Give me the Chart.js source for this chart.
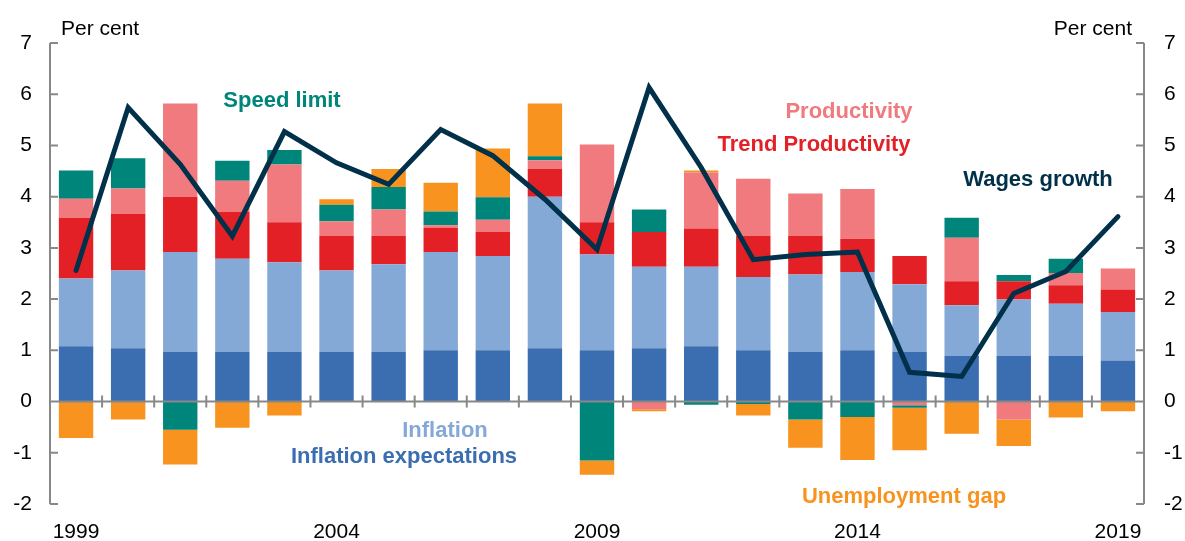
<!DOCTYPE html>
<html><head><meta charset="utf-8">
<script src="https://cdn.jsdelivr.net/npm/chart.js@4.4.1/dist/chart.umd.min.js"></script>
<style>html,body{margin:0;padding:0;background:#fff;} #wrap{width:1185px;height:541px;}</style>
</head><body><div id="wrap"><canvas id="c" width="1185" height="541"></canvas></div>
<script>
const years = [1999,2000,2001,2002,2003,2004,2005,2006,2007,2008,2009,2010,2011,2012,2013,2014,2015,2016,2017,2018,2019];
const inflationExpectations = [1.08,1.04,0.97,0.97,0.97,0.97,0.97,1.00,1.00,1.04,1.00,1.04,1.08,1.00,0.97,1.00,0.97,0.89,0.89,0.89,0.80];
const inflation = [1.32,1.52,1.95,1.82,1.75,1.59,1.71,1.92,1.84,2.96,1.87,1.59,1.55,1.43,1.51,1.53,1.32,0.99,1.10,1.02,0.95];
const trendProductivity = [1.19,1.10,1.08,0.91,0.78,0.67,0.55,0.47,0.47,0.54,0.63,0.68,0.75,0.80,0.75,0.65,0.55,0.47,0.36,0.36,0.44];
const productivity = [0.37,0.50,1.82,0.61,1.13,0.29,0.52,0.05,0.24,0.17,1.52,-0.15,1.09,1.12,0.83,0.97,-0.07,0.85,-0.35,0.24,0.41];
const speedLimit = [0.55,0.59,-0.55,0.39,0.28,0.32,0.44,0.27,0.44,0.08,-1.15,0.44,-0.06,-0.05,-0.35,-0.30,-0.05,0.39,0.12,0.28,0];
const unemploymentGap = [-0.71,-0.35,-0.68,-0.51,-0.27,0.11,0.35,0.56,0.95,1.03,-0.28,-0.04,0.04,-0.22,-0.55,-0.84,-0.83,-0.63,-0.52,-0.31,-0.19];
const wagesGrowth = [2.56,5.74,4.63,3.23,5.27,4.66,4.24,5.31,4.80,3.95,2.97,6.13,4.57,2.77,2.87,2.92,0.57,0.49,2.11,2.54,3.61];
const yTicks = [-2,-1,0,1,2,3,4,5,6,7];

const C = {
  infExp:'#3B6EB0', infl:'#84A9D6', trend:'#E42027', prod:'#F07A7D',
  speed:'#00857B', unemp:'#F7931E', wages:'#00304A', axis:'#888888'
};
const FONT = '"Liberation Sans", Arial, sans-serif';

const overlay = {
  id:'overlay',
  afterDatasetsDraw(chart){
    const ctx = chart.ctx, a = chart.chartArea;
    const x = chart.scales.x, y = chart.scales.y;
    ctx.save();
    ctx.strokeStyle = C.axis; ctx.lineWidth = 2;
    ctx.beginPath();
    ctx.moveTo(a.left, y.getPixelForValue(7)); ctx.lineTo(a.left, y.getPixelForValue(-2));
    ctx.moveTo(a.right, y.getPixelForValue(7)); ctx.lineTo(a.right, y.getPixelForValue(-2));
    yTicks.forEach(v => {
      const py = y.getPixelForValue(v);
      ctx.moveTo(a.left, py); ctx.lineTo(a.left + 8, py);
      ctx.moveTo(a.right, py); ctx.lineTo(a.right - 8, py);
    });
    const z = y.getPixelForValue(0);
    ctx.moveTo(a.left, z); ctx.lineTo(a.right, z);
    for (let i = 1; i < years.length; i++) {
      const px = (x.getPixelForValue(i - 1) + x.getPixelForValue(i)) / 2;
      ctx.moveTo(px, z - 6); ctx.lineTo(px, z + 6);
    }
    ctx.stroke();
    ctx.restore();
  },
  afterDraw(chart){
    const ctx = chart.ctx;
    ctx.save();
    ctx.fillStyle = '#000';
    ctx.font = '21px ' + FONT;
    ctx.textBaseline = 'alphabetic';
    ctx.textAlign = 'left'; ctx.fillText('Per cent', 61, 35);
    ctx.textAlign = 'right'; ctx.fillText('Per cent', 1132, 35);
    const labels = [
      ['Speed limit', 282, 101, C.speed],
      ['Productivity', 849, 112, C.prod],
      ['Trend Productivity', 814, 145, C.trend],
      ['Wages growth', 1038, 180, C.wages],
      ['Inflation', 445, 431, C.infl],
      ['Inflation expectations', 404, 457, C.infExp],
      ['Unemployment gap', 904, 497, C.unemp]
    ];
    ctx.font = 'bold 22px ' + FONT;
    ctx.textAlign = 'center'; ctx.textBaseline = 'middle';
    labels.forEach(([t, px, py, col]) => { ctx.fillStyle = col; ctx.fillText(t, px, py); });
    ctx.restore();
  }
};

const bar = (label, data, color) => ({
  type:'bar', label, data, backgroundColor: color, borderWidth: 0,
  barPercentage: 0.66, categoryPercentage: 1.0, stack: 'main', order: 1
});

new Chart(document.getElementById('c'), {
  data: {
    labels: years,
    datasets: [
      { type:'line', label:'Wages growth', data: wagesGrowth, borderColor: C.wages, borderWidth: 5,
        pointRadius: 0, tension: 0, stack: 'wages', order: 0, borderCapStyle: 'round', borderJoinStyle: 'miter', fill: false },
      bar('Inflation expectations', inflationExpectations, C.infExp),
      bar('Inflation', inflation, C.infl),
      bar('Trend Productivity', trendProductivity, C.trend),
      bar('Productivity', productivity, C.prod),
      bar('Speed limit', speedLimit, C.speed),
      bar('Unemployment gap', unemploymentGap, C.unemp)
    ]
  },
  options: {
    responsive: false, animation: false, devicePixelRatio: 1,
    layout: { padding: { top: 43, left: 0, right: 0, bottom: 0 } },
    plugins: { legend: { display: false }, tooltip: { enabled: false } },
    scales: {
      x: {
        stacked: true, offset: true,
        grid: { display: false }, border: { display: false },
        ticks: { autoSkip: false, maxRotation: 0, padding: 8, color: '#000', font: { size: 21, family: FONT },
          callback: (v, i) => (i % 5 === 0 ? String(years[i]) : '') },
        afterFit: s => { s.height = 37; }
      },
      y: {
        position: 'left', stacked: true, min: -2, max: 7,
        grid: { display: false, drawTicks: false }, border: { display: false },
        ticks: { stepSize: 1, padding: 18, color: '#000', font: { size: 21, family: FONT } },
        afterFit: s => { s.width = 50; }
      },
      y2: {
        position: 'right', min: -2, max: 7,
        grid: { display: false, drawTicks: false }, border: { display: false },
        ticks: { stepSize: 1, padding: 20, color: '#000', font: { size: 21, family: FONT } },
        afterFit: s => { s.width = 41; }
      }
    }
  },
  plugins: [overlay]
});
</script>
</body></html>
